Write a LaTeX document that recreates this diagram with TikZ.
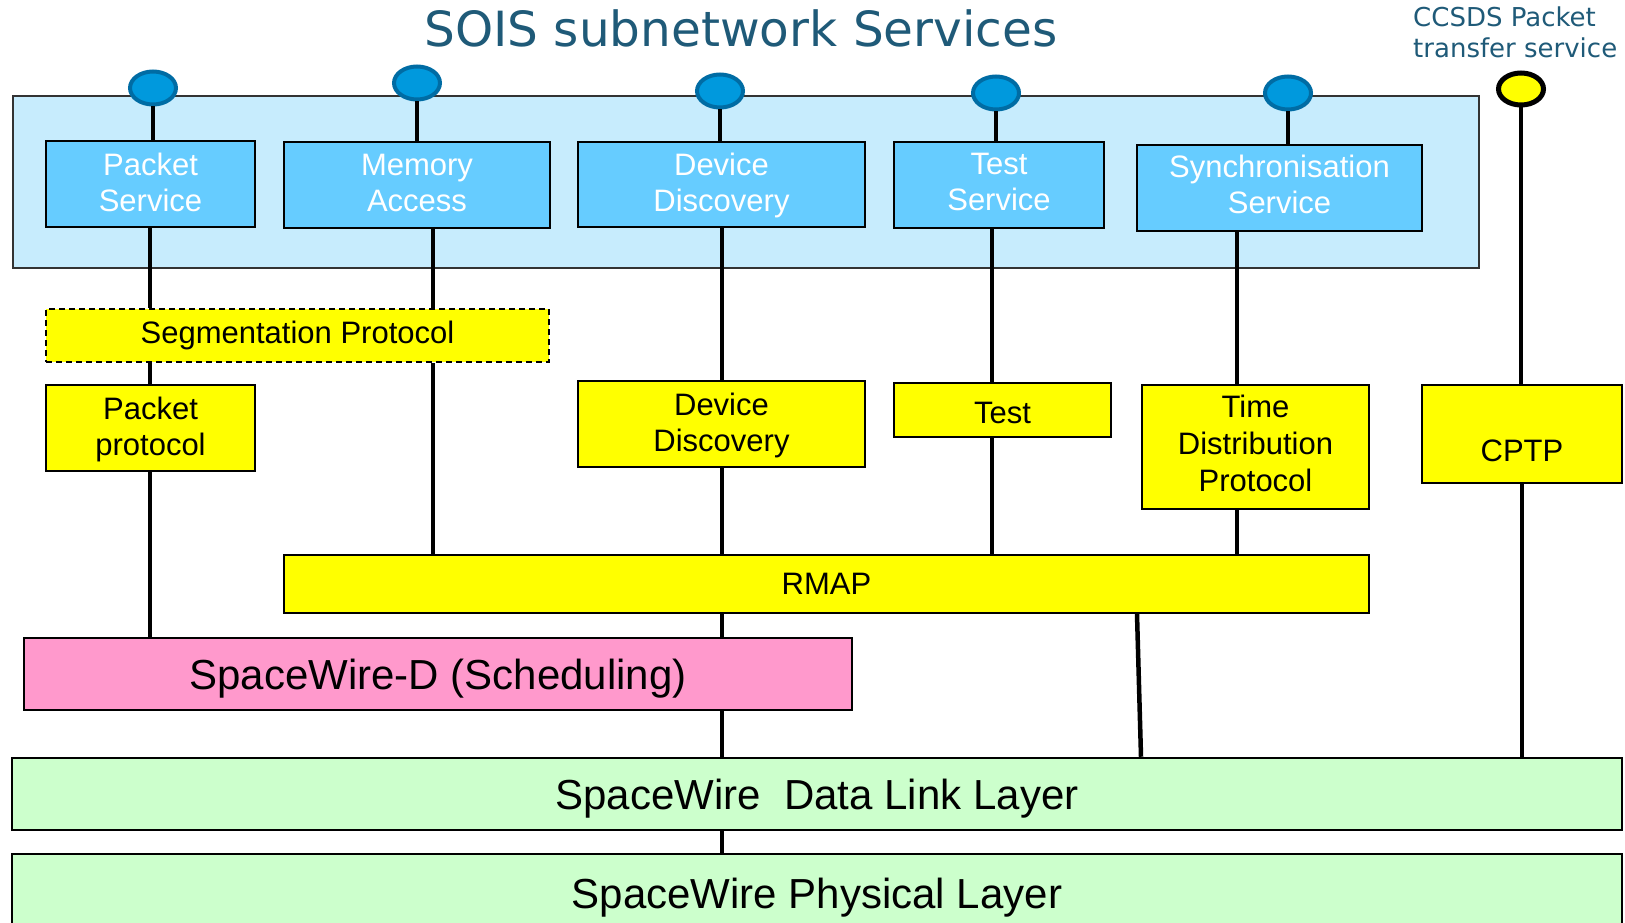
\documentclass[tikz,border=0pt]{standalone}
\usepackage{fontspec}
\setmainfont{Liberation Sans}
\newfontfamily\dvfont{DejaVu Sans}
\usetikzlibrary{shapes.geometric}
\definecolor{outerblue}{HTML}{C7ECFD}
\definecolor{svcblue}{HTML}{66CCFF}
\definecolor{ifblue}{HTML}{0099DD}
\definecolor{ifedge}{HTML}{006CA4}
\definecolor{protyellow}{HTML}{FFFF00}
\definecolor{schedpink}{HTML}{FF99CC}
\definecolor{layergreen}{HTML}{CCFFCC}
\definecolor{titleteal}{HTML}{1F5A78}
\begin{document}
\begin{tikzpicture}[x=1pt,y=-1pt,
  svc/.style={draw=black, line width=2pt, fill=svcblue, text=white, inner sep=0pt, align=center, text depth=4pt, font=\fontsize{31}{36}\selectfont},
  prot/.style={draw=black, line width=2pt, fill=protyellow, inner sep=0pt, align=center, font=\fontsize{31}{36}\selectfont},
  layerbox/.style={draw=black, line width=2.5pt, inner sep=0pt, text height=30pt, text depth=0pt, font=\fontsize{42}{48}\selectfont},
  iface/.style={ellipse, draw=ifedge, fill=ifblue, line width=4pt, minimum width=46pt, minimum height=33pt, inner sep=0pt},
  conn/.style={line width=4.5pt, black},
]
\clip (0,0) rectangle (1625,923);
\useasboundingbox (0,0) rectangle (1625,923);

% title texts
\node[anchor=base, font=\dvfont\fontsize{48.5}{56}\selectfont, text=titleteal, inner sep=0pt] (title) at (741,47) {SOIS subnetwork Services};
\node[anchor=north west, align=left, font=\dvfont\fontsize{26}{31}\selectfont, text=titleteal, inner sep=0pt] (ccsds) at (1413,7) {CCSDS Packet\\transfer service};

% outer services box
\node[draw=black!80, line width=2pt, fill=outerblue, minimum width=1466pt, minimum height=172pt, inner sep=0pt] (outer) at (746,182) {};

% service boxes
\node[svc, minimum width=209pt, minimum height=86pt] (PS) at (150.5,184) {Packet\\Service};
\node[svc, minimum width=266pt, minimum height=86pt] (MA) at (417,185) {Memory\\Access};
\node[svc, minimum width=287pt, minimum height=85pt] (DD) at (721.5,184.5) {Device\\Discovery};
\node[svc, minimum width=210pt, minimum height=86pt, text depth=6pt] (TS) at (999,185) {Test\\Service};
\node[svc, minimum width=285pt, minimum height=86pt, text depth=8pt] (SS) at (1279.5,188) {Synchronisation\\Service};

% interface points
\node[iface] (e1) at (153,88) {};
\node[iface] (e2) at (417,83) {};
\node[iface] (e3) at (720,91) {};
\node[iface] (e4) at (996,93) {};
\node[iface] (e5) at (1288,93) {};
\node[iface, draw=black, fill=protyellow, line width=5pt, minimum width=45pt, minimum height=32pt] (e6) at (1521,89) {};

% protocol boxes
\node[prot, dashed, dash pattern=on 6pt off 4pt, minimum width=503pt, minimum height=53pt] (seg) at (297.5,335.5) {Segmentation Protocol};
\node[prot, minimum width=209pt, minimum height=86pt, text depth=4pt] (pp) at (150.5,428) {Packet\\protocol};
\node[prot, minimum width=287pt, minimum height=86pt, text depth=3pt] (ddp) at (721.5,424) {Device\\Discovery};
\node[prot, minimum width=217pt, minimum height=54pt, text height=27pt, text depth=0pt] (tp) at (1002.5,410) {Test};
\node[prot, minimum width=227pt, minimum height=124pt, text depth=8pt, font=\fontsize{31}{37}\selectfont] (tdp) at (1255.5,447) {Time\\Distribution\\Protocol};
\node[prot, minimum width=200pt, minimum height=98pt] (cptp) at (1522,434) {};
\node[inner sep=0pt, font=\fontsize{31}{36}\selectfont] (cptptext) at (1522,451) {CPTP};
\node[prot, minimum width=1085pt, minimum height=58pt] (rmap) at (826.5,584) {RMAP};

% layers
\node[layerbox, fill=schedpink, minimum width=828pt, minimum height=72pt] (spwd) at (438,674) {SpaceWire-D (Scheduling)};
\node[layerbox, fill=layergreen, minimum width=1610pt, minimum height=72pt] (dl) at (817,794) {SpaceWire\ \ Data Link Layer};
\node[layerbox, fill=layergreen, minimum width=1610pt, minimum height=78pt] (phy) at (817,893) {SpaceWire Physical Layer};

% column positions
\coordinate (cPk) at (150,0);
\coordinate (cMa) at (433,0);
\coordinate (cDd) at (722,0);
\coordinate (cTs) at (992,0);
\coordinate (cSy) at (1237,0);
\coordinate (cRm) at (1137,0);
\coordinate (cDl) at (1141,0);
\coordinate (cCp) at (1522,0);

% connectors
\draw[conn] (e1.south) -- (e1.south |- PS.north);
\draw[conn] (e2.south) -- (e2.south |- MA.north);
\draw[conn] (e3.south) -- (e3.south |- DD.north);
\draw[conn] (e4.south) -- (e4.south |- TS.north);
\draw[conn] (e5.south) -- (e5.south |- SS.north);
\draw[conn] (e6.south) -- (e6.south |- cptp.north);

\draw[conn] (PS.south -| cPk) -- (seg.north -| cPk);
\draw[conn] (seg.south -| cPk) -- (pp.north -| cPk);
\draw[conn] (pp.south -| cPk) -- (spwd.north -| cPk);
\draw[conn] (MA.south -| cMa) -- (seg.north -| cMa);
\draw[conn] (seg.south -| cMa) -- (rmap.north -| cMa);
\draw[conn] (DD.south -| cDd) -- (ddp.north -| cDd);
\draw[conn] (ddp.south -| cDd) -- (rmap.north -| cDd);
\draw[conn] (rmap.south -| cDd) -- (spwd.north -| cDd);
\draw[conn] (spwd.south -| cDd) -- (dl.north -| cDd);
\draw[conn] (dl.south -| cDd) -- (phy.north -| cDd);
\draw[conn] (TS.south -| cTs) -- (tp.north -| cTs);
\draw[conn] (tp.south -| cTs) -- (rmap.north -| cTs);
\draw[conn] (SS.south -| cSy) -- (tdp.north -| cSy);
\draw[conn] (tdp.south -| cSy) -- (rmap.north -| cSy);
\draw[conn] (rmap.south -| cRm) -- (dl.north -| cDl);
\draw[conn] (cptp.south -| cCp) -- (dl.north -| cCp);
\end{tikzpicture}
\end{document}
